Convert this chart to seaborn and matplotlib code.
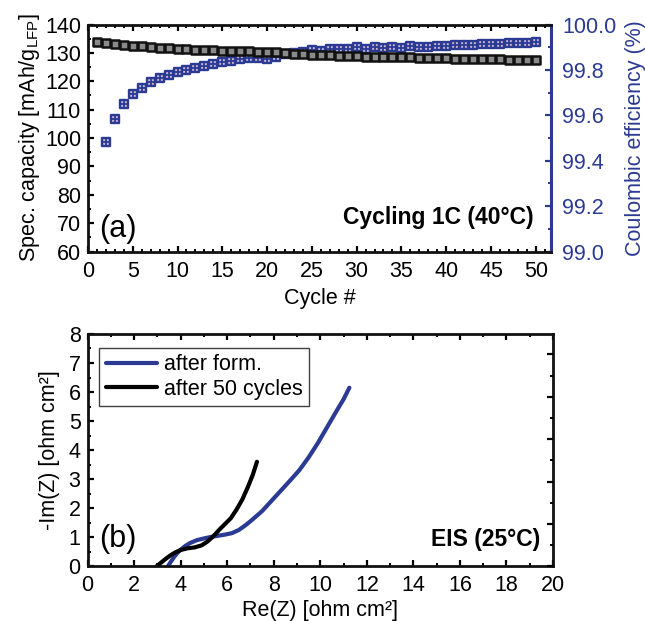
import matplotlib
matplotlib.use("Agg")
import matplotlib.pyplot as plt
from matplotlib.ticker import MultipleLocator, FormatStrFormatter
import seaborn as sns
import pandas as pd

# ---- cycling data (1C, 40 °C) ----
cycles = list(range(1, 51))
capacity = [134.0, 133.5, 133.1, 132.9, 132.5, 132.3, 132.1, 131.8, 131.7, 131.5,
            131.3, 131.1, 131.0, 130.9, 130.8, 130.6, 130.5, 130.5, 130.3, 130.3,
            130.2, 129.8, 129.7, 129.6, 129.4, 129.2, 129.2, 129.0, 128.8, 128.8,
            128.7, 128.7, 128.5, 128.5, 128.4, 128.4, 128.3, 128.2, 128.1, 128.1,
            127.9, 127.8, 127.8, 127.8, 127.7, 127.7, 127.6, 127.6, 127.5, 127.5]
ce_cycles = list(range(2, 51))
coulombic_eff = [99.484, 99.585, 99.652, 99.693, 99.721, 99.748, 99.766, 99.778, 99.793,
                 99.800, 99.810, 99.819, 99.825, 99.833, 99.840, 99.846, 99.852, 99.853,
                 99.850, 99.856, 99.868, 99.875, 99.880, 99.889, 99.884, 99.893, 99.892,
                 99.893, 99.899, 99.894, 99.900, 99.898, 99.901, 99.896, 99.904, 99.903,
                 99.902, 99.907, 99.907, 99.908, 99.908, 99.908, 99.914, 99.914, 99.914,
                 99.919, 99.919, 99.917, 99.923]

# ---- impedance spectra (25 °C) ----
form_re = [3.45, 3.55, 3.7, 3.85, 4.0, 4.2, 4.4, 4.7, 5.0, 5.3, 5.6, 5.9, 6.2, 6.5,
           6.8, 7.1, 7.5, 7.9, 8.3, 8.7, 9.1, 9.5, 9.9, 10.3, 10.7, 11.0, 11.25]
form_im = [0.0, 0.12, 0.3, 0.45, 0.57, 0.7, 0.8, 0.9, 0.96, 1.01, 1.05, 1.09, 1.14, 1.25,
           1.42, 1.62, 1.9, 2.25, 2.6, 2.95, 3.31, 3.75, 4.25, 4.8, 5.35, 5.75, 6.15]
cyc50_re = [2.97, 3.15, 3.35, 3.55, 3.75, 4.0, 4.3, 4.6, 4.9, 5.15, 5.4, 5.65, 5.9,
            6.15, 6.4, 6.65, 6.9, 7.1, 7.28]
cyc50_im = [0.0, 0.12, 0.25, 0.37, 0.47, 0.56, 0.62, 0.65, 0.72, 0.85, 1.03, 1.25, 1.45,
            1.65, 1.95, 2.3, 2.75, 3.15, 3.6]
eis_labels = ["after form.", "after 50 cycles"]

BLUE = "#2b3a92"
BLACK = "#111111"

sns.set_theme(style="ticks", rc={"text.color": "black", "axes.labelcolor": "black",
                                 "xtick.color": "black", "ytick.color": "black"})
plt.rcParams["font.family"] = ["Liberation Sans", "DejaVu Sans"]
plt.rcParams["mathtext.default"] = "regular"
plt.rcParams["axes.linewidth"] = 2.0

FS = 15.5

fig = plt.figure(figsize=(6.45, 6.21), dpi=100)
fig.patch.set_facecolor("white")


def style_ticks(ax, **kw):
    ax.tick_params(which="major", direction="in", length=4.5, width=1.6,
                   labelsize=FS, **kw)
    ax.tick_params(which="minor", direction="in", length=2.5, width=1.4, **kw)


# ================= (a) cycling =================
ax = fig.add_axes([0.1364, 0.595, 0.7178, 0.3655])
ax2 = ax.twinx()

cap_df = pd.DataFrame({"cycle": cycles, "capacity": capacity})
ce_df = pd.DataFrame({"cycle": ce_cycles, "ce": coulombic_eff})

# Coulombic efficiency: blue squares with a light cross pattern
sns.scatterplot(data=ce_df, x="cycle", y="ce", ax=ax2, marker="s", s=28,
                color="#c9b6d6", edgecolor=BLUE, linewidth=1.7, legend=False, zorder=2)
sns.scatterplot(data=ce_df, x="cycle", y="ce", ax=ax2, marker="+", s=24,
                color=BLUE, linewidth=1.3, legend=False, zorder=3)

# Specific capacity: grey squares with black edge
sns.scatterplot(data=cap_df, x="cycle", y="capacity", ax=ax, marker="s", s=28,
                color="#8a8a8a", edgecolor=BLACK, linewidth=1.8, legend=False, zorder=3)

ax.set_zorder(ax2.get_zorder() + 1)
ax.patch.set_visible(False)

ax.set_xlim(0, 51.7)
ax.set_ylim(60, 140)
ax2.set_ylim(99.0, 100.0)

ax.xaxis.set_major_locator(MultipleLocator(5))
ax.xaxis.set_minor_locator(MultipleLocator(1))
ax.yaxis.set_major_locator(MultipleLocator(10))
ax.yaxis.set_minor_locator(MultipleLocator(5))
ax2.yaxis.set_major_locator(MultipleLocator(0.2))
ax2.yaxis.set_minor_locator(MultipleLocator(0.1))
ax2.yaxis.set_major_formatter(FormatStrFormatter("%.1f"))

style_ticks(ax, top=True, right=False)
ax.tick_params(axis="x", pad=7)
ax.tick_params(axis="y", pad=5)
style_ticks(ax2, left=False, right=True, colors=BLUE)
ax2.tick_params(axis="y", pad=8, labelcolor=BLUE)

for s in ["left", "top", "bottom"]:
    ax.spines[s].set_color(BLACK)
ax.spines["right"].set_visible(False)
ax2.spines["right"].set_color(BLUE)
ax2.spines["right"].set_linewidth(2.2)
for s in ["left", "top", "bottom"]:
    ax2.spines[s].set_visible(False)

ax.set_xlabel("Cycle #", fontsize=FS, labelpad=4)
ax.set_ylabel(r"Spec. capacity [mAh/g$_{LFP}$]", fontsize=FS, labelpad=2)
ax2.set_ylabel("Coulombic efficiency (%)", fontsize=FS, color=BLUE, labelpad=6)

ax.text(0.025, 0.065, "(a)", transform=ax.transAxes, fontsize=22,
        ha="left", va="baseline")
ax.text(0.962, 0.12, "Cycling 1C (40°C)", transform=ax.transAxes, fontsize=16.5,
        fontweight="bold", ha="right", va="baseline")

# ================= (b) EIS =================
bx = fig.add_axes([0.1357, 0.0881, 0.7217, 0.3741])
bx2 = bx.twinx()

eis_df = pd.concat([
    pd.DataFrame({"re": form_re, "im": form_im, "state": eis_labels[0]}),
    pd.DataFrame({"re": cyc50_re, "im": cyc50_im, "state": eis_labels[1]}),
])
sns.lineplot(data=eis_df, x="re", y="im", hue="state", sort=False, ax=bx,
             palette={eis_labels[0]: BLUE, eis_labels[1]: "#000000"},
             linewidth=3.0, estimator=None)

bx.set_xlim(0, 20)
bx.set_ylim(0, 8)
bx.xaxis.set_major_locator(MultipleLocator(2))
bx.xaxis.set_minor_locator(MultipleLocator(1))
bx.yaxis.set_major_locator(MultipleLocator(1))
bx.yaxis.set_minor_locator(MultipleLocator(0.5))
style_ticks(bx, top=True, right=False)
bx.tick_params(axis="x", pad=6)
bx.tick_params(axis="y", pad=5)

# right-hand frame ticks on their own scale
bx2.set_ylim(0, 5.48)
bx2.yaxis.set_major_locator(MultipleLocator(1))
bx2.yaxis.set_minor_locator(MultipleLocator(0.5))
style_ticks(bx2, left=False, right=True)
bx2.tick_params(axis="y", labelright=False)
for s in bx2.spines.values():
    s.set_visible(False)
for s in bx.spines.values():
    s.set_color(BLACK)

bx.set_xlabel("Re(Z) [ohm cm²]", fontsize=FS, labelpad=3)
bx.set_ylabel("-Im(Z) [ohm cm²]", fontsize=FS, labelpad=6)

leg = bx.legend(loc="upper left", bbox_to_anchor=(0.025, 0.94), fontsize=15.5,
                frameon=True, fancybox=False, handlelength=2.4, handletextpad=0.3,
                borderpad=0.3, labelspacing=0.15, borderaxespad=0)
leg.get_frame().set_edgecolor(BLACK)
leg.get_frame().set_linewidth(1.0)
for line in leg.get_lines():
    line.set_linewidth(3.0)

bx.text(0.025, 0.085, "(b)", transform=bx.transAxes, fontsize=22,
        ha="left", va="baseline")
bx.text(0.972, 0.088, "EIS (25°C)", transform=bx.transAxes, fontsize=16.5,
        fontweight="bold", ha="right", va="baseline")

fig.savefig("out.png", dpi=100, facecolor="white")
